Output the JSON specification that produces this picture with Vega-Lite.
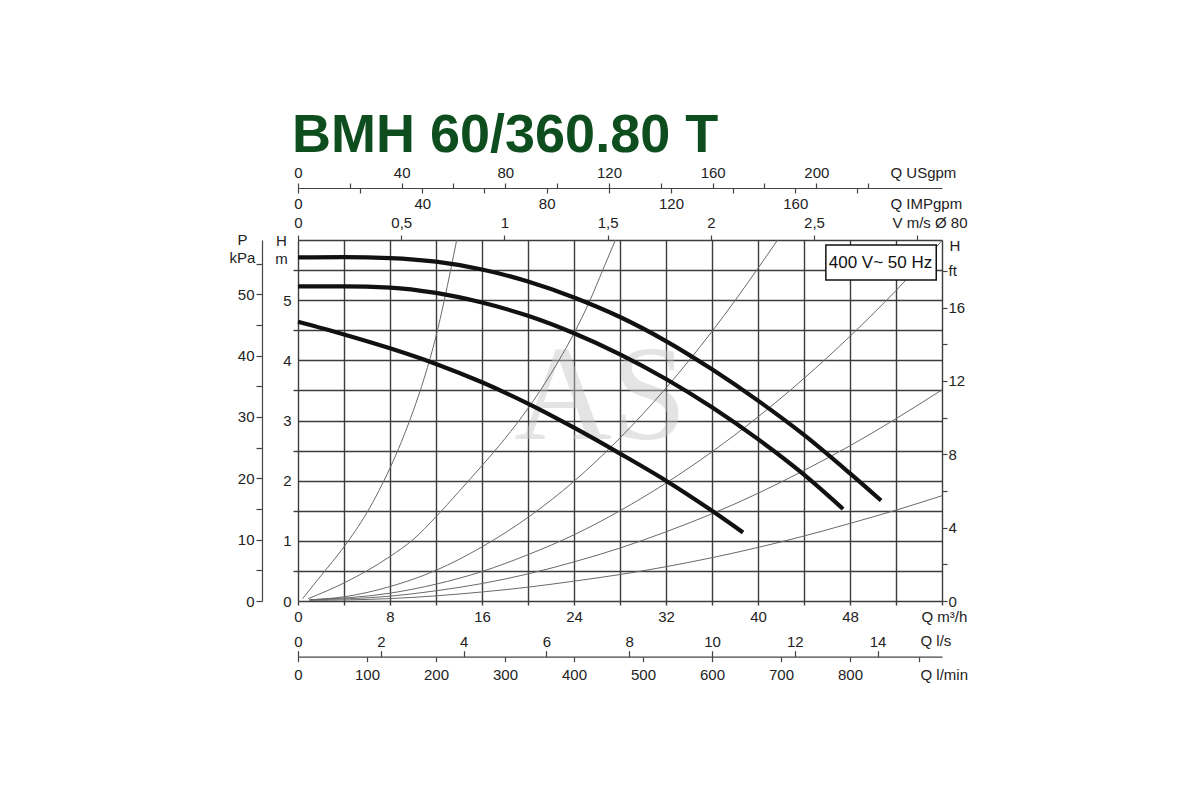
{
  "$schema": "https://vega.github.io/schema/vega-lite/v6.json",
  "width": 644,
  "height": 361,
  "autosize": {"type": "none"},
  "padding": {"left": 298, "top": 240, "right": 258, "bottom": 199},
  "background": "#ffffff",
  "title": {
    "text": "BMH 60/360.80 T",
    "anchor": "start",
    "frame": "group",
    "font": "Liberation Sans",
    "fontSize": 54,
    "fontWeight": "bold",
    "color": "#0e4d1e",
    "baseline": "alphabetic",
    "offset": -41,
    "dx": -6
  },
  "config": {
    "view": {"stroke": null},
    "axis": {
      "labelFont": "Liberation Sans",
      "labelFontSize": 15,
      "labelColor": "#222222",
      "titleFont": "Liberation Sans",
      "titleFontSize": 15,
      "titleFontWeight": "normal",
      "titleColor": "#222222",
      "domainColor": "#444444",
      "domainWidth": 1.2,
      "tickColor": "#444444",
      "tickWidth": 1.2,
      "grid": false,
      "labelFlush": false,
      "labelOverlap": false,
      "labelBound": false,
      "titlePadding": 0
    }
  },
  "datasets": {
    "pump": [
      {"curve": "1", "Q": 0, "H": 5.71}, {"curve": "1", "Q": 4, "H": 5.715}, {"curve": "1", "Q": 8, "H": 5.7},
      {"curve": "1", "Q": 12, "H": 5.64}, {"curve": "1", "Q": 16, "H": 5.51}, {"curve": "1", "Q": 20, "H": 5.31},
      {"curve": "1", "Q": 24, "H": 5.045}, {"curve": "1", "Q": 28, "H": 4.72}, {"curve": "1", "Q": 32, "H": 4.32},
      {"curve": "1", "Q": 36, "H": 3.85}, {"curve": "1", "Q": 40, "H": 3.33}, {"curve": "1", "Q": 44, "H": 2.76},
      {"curve": "1", "Q": 48, "H": 2.12}, {"curve": "1", "Q": 50.7, "H": 1.67},
      {"curve": "2", "Q": 0, "H": 5.23}, {"curve": "2", "Q": 4, "H": 5.23}, {"curve": "2", "Q": 8, "H": 5.21},
      {"curve": "2", "Q": 12, "H": 5.12}, {"curve": "2", "Q": 16, "H": 4.96}, {"curve": "2", "Q": 20, "H": 4.74},
      {"curve": "2", "Q": 24, "H": 4.45}, {"curve": "2", "Q": 28, "H": 4.1}, {"curve": "2", "Q": 32, "H": 3.69},
      {"curve": "2", "Q": 36, "H": 3.22}, {"curve": "2", "Q": 40, "H": 2.69}, {"curve": "2", "Q": 44, "H": 2.1},
      {"curve": "2", "Q": 47.4, "H": 1.53},
      {"curve": "3", "Q": 0, "H": 4.64}, {"curve": "3", "Q": 4, "H": 4.43}, {"curve": "3", "Q": 8, "H": 4.2},
      {"curve": "3", "Q": 12, "H": 3.94}, {"curve": "3", "Q": 16, "H": 3.635}, {"curve": "3", "Q": 20, "H": 3.28},
      {"curve": "3", "Q": 24, "H": 2.88}, {"curve": "3", "Q": 28, "H": 2.45}, {"curve": "3", "Q": 32, "H": 2.0},
      {"curve": "3", "Q": 36, "H": 1.5}, {"curve": "3", "Q": 38.7, "H": 1.14}
    ],
    "system": [
      {"curve": "a", "Q": 0.4, "H": 0.04}, {"curve": "a", "Q": 2, "H": 0.42}, {"curve": "a", "Q": 4, "H": 0.9},
      {"curve": "a", "Q": 5, "H": 1.17}, {"curve": "a", "Q": 6, "H": 1.47}, {"curve": "a", "Q": 7, "H": 1.82},
      {"curve": "a", "Q": 8, "H": 2.21}, {"curve": "a", "Q": 9, "H": 2.65}, {"curve": "a", "Q": 10, "H": 3.15},
      {"curve": "a", "Q": 11, "H": 3.72}, {"curve": "a", "Q": 12, "H": 4.4}, {"curve": "a", "Q": 12.7, "H": 4.98},
      {"curve": "a", "Q": 13.25, "H": 5.48}, {"curve": "a", "Q": 13.8, "H": 6.0},
      {"curve": "b", "Q": 0.9, "H": 0.04}, {"curve": "b", "Q": 4, "H": 0.3}, {"curve": "b", "Q": 8, "H": 0.74},
      {"curve": "b", "Q": 10, "H": 1.02}, {"curve": "b", "Q": 12, "H": 1.4}, {"curve": "b", "Q": 14, "H": 1.82},
      {"curve": "b", "Q": 16, "H": 2.25}, {"curve": "b", "Q": 18, "H": 2.7}, {"curve": "b", "Q": 20, "H": 3.2},
      {"curve": "b", "Q": 22, "H": 3.78}, {"curve": "b", "Q": 24, "H": 4.45}, {"curve": "b", "Q": 25.4, "H": 5.0},
      {"curve": "b", "Q": 26.5, "H": 5.5}, {"curve": "b", "Q": 27.6, "H": 6.0},
      {"curve": "c", "Q": 1, "H": 0.02}, {"curve": "c", "Q": 4, "H": 0.07}, {"curve": "c", "Q": 8, "H": 0.24},
      {"curve": "c", "Q": 12, "H": 0.51}, {"curve": "c", "Q": 16, "H": 0.9}, {"curve": "c", "Q": 20, "H": 1.39},
      {"curve": "c", "Q": 24, "H": 1.99}, {"curve": "c", "Q": 28, "H": 2.71}, {"curve": "c", "Q": 32, "H": 3.54},
      {"curve": "c", "Q": 36, "H": 4.48}, {"curve": "c", "Q": 40, "H": 5.53}, {"curve": "c", "Q": 41.7, "H": 6.0},
      {"curve": "d", "Q": 1, "H": 0.02}, {"curve": "d", "Q": 8, "H": 0.13}, {"curve": "d", "Q": 12, "H": 0.28},
      {"curve": "d", "Q": 16, "H": 0.49}, {"curve": "d", "Q": 20, "H": 0.77}, {"curve": "d", "Q": 24, "H": 1.1},
      {"curve": "d", "Q": 28, "H": 1.5}, {"curve": "d", "Q": 32, "H": 1.96}, {"curve": "d", "Q": 36, "H": 2.48},
      {"curve": "d", "Q": 40, "H": 3.06}, {"curve": "d", "Q": 44, "H": 3.7}, {"curve": "d", "Q": 48, "H": 4.4},
      {"curve": "d", "Q": 52, "H": 5.16}, {"curve": "d", "Q": 56, "H": 5.99},
      {"curve": "e", "Q": 1, "H": 0.02}, {"curve": "e", "Q": 8, "H": 0.08}, {"curve": "e", "Q": 12, "H": 0.17},
      {"curve": "e", "Q": 16, "H": 0.29}, {"curve": "e", "Q": 20, "H": 0.45}, {"curve": "e", "Q": 24, "H": 0.65},
      {"curve": "e", "Q": 28, "H": 0.88}, {"curve": "e", "Q": 32, "H": 1.15}, {"curve": "e", "Q": 36, "H": 1.45},
      {"curve": "e", "Q": 40, "H": 1.79}, {"curve": "e", "Q": 44, "H": 2.17}, {"curve": "e", "Q": 48, "H": 2.58},
      {"curve": "e", "Q": 52, "H": 3.03}, {"curve": "e", "Q": 56, "H": 3.51},
      {"curve": "f", "Q": 1, "H": 0.01}, {"curve": "f", "Q": 8, "H": 0.04}, {"curve": "f", "Q": 16, "H": 0.15},
      {"curve": "f", "Q": 20, "H": 0.23}, {"curve": "f", "Q": 24, "H": 0.33}, {"curve": "f", "Q": 28, "H": 0.44},
      {"curve": "f", "Q": 32, "H": 0.57}, {"curve": "f", "Q": 36, "H": 0.72}, {"curve": "f", "Q": 40, "H": 0.89},
      {"curve": "f", "Q": 44, "H": 1.08}, {"curve": "f", "Q": 48, "H": 1.29}, {"curve": "f", "Q": 52, "H": 1.51},
      {"curve": "f", "Q": 56, "H": 1.75}
    ]
  },
  "resolve": {
    "scale": {"x": "independent", "y": "independent"},
    "axis": {"x": "independent", "y": "independent"}
  },
  "layer": [
    {
      "data": {"values": [{"label": "AS"}]},
      "mark": {"type": "text", "font": "Liberation Serif", "fontSize": 135, "color": "#c4c4c4", "opacity": 0.45, "align": "center", "baseline": "middle"},
      "encoding": {
        "x": {"datum": 26.3, "type": "quantitative", "scale": {"domain": [0, 56], "nice": false, "zero": false}, "axis": null},
        "y": {"datum": 3.37, "type": "quantitative", "scale": {"domain": [0, 6], "nice": false, "zero": false}, "axis": null},
        "text": {"field": "label"}
      }
    },
    {
      "data": {"name": "system"},
      "mark": {"type": "line", "color": "#6a6a6a", "strokeWidth": 1, "interpolate": "monotone"},
      "encoding": {
        "x": {
          "field": "Q", "type": "quantitative",
          "scale": {"domain": [0, 56], "nice": false, "zero": false},
          "axis": {
            "orient": "bottom",
            "values": [0, 4, 8, 12, 16, 20, 24, 28, 32, 36, 40, 44, 48, 52, 56],
            "grid": true, "gridColor": "#3c3c3c", "gridWidth": 1.4,
            "domain": false, "tickSize": 4, "tickColor": "#3c3c3c", "tickWidth": 1.4,
            "labelPadding": 4.5,
            "labelExpr": "datum.value % 8 === 0 && datum.value < 56 ? format(datum.value, '~g') : ''",
            "title": "Q m³/h", "titleX": 623, "titleY": 15, "titleAlign": "left", "titleBaseline": "middle", "titleAngle": 0
          }
        },
        "y": {
          "field": "H", "type": "quantitative",
          "scale": {"domain": [0, 6], "nice": false, "zero": false},
          "axis": {
            "orient": "left",
            "values": [0, 0.5, 1, 1.5, 2, 2.5, 3, 3.5, 4, 4.5, 5, 5.5, 6],
            "grid": true, "gridColor": "#3c3c3c", "gridWidth": 1.4,
            "domain": false, "tickSize": 5, "tickColor": "#3c3c3c", "tickWidth": 1.4,
            "tickOpacity": {"condition": {"test": "datum.value % 1 === 0", "value": 0}, "value": 1},
            "labelPadding": 2,
            "labelExpr": "datum.value % 1 === 0 && datum.value < 6 ? format(datum.value, '~g') : ''",
            "title": ["H", "m"], "titleAngle": 0, "titleX": -17, "titleY": -7,
            "titleAlign": "center", "titleBaseline": "top", "titleLineHeight": 18
          }
        },
        "detail": {"field": "curve"}
      }
    },
    {
      "data": {"name": "pump"},
      "mark": {"type": "line", "color": "#111111", "strokeWidth": 4.2, "interpolate": "monotone", "strokeCap": "butt", "strokeJoin": "round"},
      "encoding": {
        "x": {"field": "Q", "type": "quantitative", "scale": {"domain": [0, 56], "nice": false, "zero": false}, "axis": null},
        "y": {"field": "H", "type": "quantitative", "scale": {"domain": [0, 6], "nice": false, "zero": false}, "axis": null},
        "detail": {"field": "curve"}
      }
    },
    {
      "data": {"values": [{"label": "400 V~ 50 Hz"}]},
      "mark": {"type": "rect", "fill": "#ffffff", "stroke": "#111111", "strokeWidth": 1.5},
      "encoding": {
        "x": {"datum": 45.9, "type": "quantitative", "scale": {"domain": [0, 56], "nice": false, "zero": false}, "axis": null},
        "x2": {"datum": 55.5},
        "y": {"datum": 5.916, "type": "quantitative", "scale": {"domain": [0, 6], "nice": false, "zero": false}, "axis": null},
        "y2": {"datum": 5.335}
      }
    },
    {
      "data": {"values": [{"label": "400 V~ 50 Hz"}]},
      "mark": {"type": "text", "font": "Liberation Sans", "fontSize": 17, "color": "#111111", "align": "center", "baseline": "middle"},
      "encoding": {
        "x": {"datum": 50.65, "type": "quantitative", "scale": {"domain": [0, 56], "nice": false, "zero": false}, "axis": null},
        "y": {"datum": 5.626, "type": "quantitative", "scale": {"domain": [0, 6], "nice": false, "zero": false}, "axis": null},
        "text": {"field": "label"}
      }
    },
    {
      "data": {"values": [{"v": 0}]},
      "mark": {"type": "point", "opacity": 0},
      "encoding": {
        "x": {
          "field": "v", "type": "quantitative",
          "scale": {"domain": [0, 248.5], "nice": false, "zero": false},
          "axis": {
            "orient": "top", "offset": 52,
            "values": [0, 20, 40, 60, 80, 100, 120, 140, 160, 180, 200, 220],
            "domain": true, "tickSize": 5, "labelPadding": 2.5,
            "labelExpr": "datum.value % 40 === 0 ? datum.label : ''",
            "title": "Q USgpm", "titleX": 592, "titleY": -16, "titleAlign": "left", "titleBaseline": "middle", "titleAngle": 0
          }
        }
      }
    },
    {
      "data": {"values": [{"v": 0}]},
      "mark": {"type": "point", "opacity": 0},
      "encoding": {
        "x": {
          "field": "v", "type": "quantitative",
          "scale": {"domain": [0, 207.2], "nice": false, "zero": false},
          "axis": {
            "orient": "bottom", "offset": -413,
            "values": [0, 20, 40, 60, 80, 100, 120, 140, 160, 180],
            "domain": false, "tickSize": 5, "labelPadding": 3.5,
            "labelExpr": "datum.value % 40 === 0 ? datum.label : ''",
            "title": "Q IMPgpm", "titleX": 592, "titleY": 15, "titleAlign": "left", "titleBaseline": "middle", "titleAngle": 0
          }
        }
      }
    },
    {
      "data": {"values": [{"v": 0}]},
      "mark": {"type": "point", "opacity": 0},
      "encoding": {
        "x": {
          "field": "v", "type": "quantitative",
          "scale": {"domain": [0, 3.12], "nice": false, "zero": false},
          "axis": {
            "orient": "top", "offset": 0,
            "values": [0, 0.5, 1, 1.5, 2, 2.5, 3],
            "domain": false, "tickSize": 5, "labelPadding": 4.5,
            "labelExpr": "datum.value < 2.9 ? replace(format(datum.value, '~g'), '.', ',') : ''",
            "title": "V m/s Ø 80", "titleX": 594, "titleY": -18, "titleAlign": "left", "titleBaseline": "middle", "titleAngle": 0
          }
        }
      }
    },
    {
      "data": {"values": [{"v": 0}]},
      "mark": {"type": "point", "opacity": 0},
      "encoding": {
        "x": {
          "field": "v", "type": "quantitative",
          "scale": {"domain": [0, 15.556], "nice": false, "zero": false},
          "axis": {
            "orient": "top", "offset": -416.7,
            "values": [0, 2, 4, 6, 8, 10, 12, 14],
            "domain": true, "tickSize": 6, "labelPadding": 1,
            "title": "Q l/s", "titleX": 622, "titleY": -16, "titleAlign": "left", "titleBaseline": "middle", "titleAngle": 0
          }
        }
      }
    },
    {
      "data": {"values": [{"v": 0}]},
      "mark": {"type": "point", "opacity": 0},
      "encoding": {
        "x": {
          "field": "v", "type": "quantitative",
          "scale": {"domain": [0, 933.33], "nice": false, "zero": false},
          "axis": {
            "orient": "bottom", "offset": 55.7,
            "values": [0, 100, 200, 300, 400, 500, 600, 700, 800, 900],
            "domain": false, "tickSize": 5, "labelPadding": 6,
            "labelExpr": "datum.value < 850 ? datum.label : ''",
            "title": "Q l/min", "titleX": 622, "titleY": 17.5, "titleAlign": "left", "titleBaseline": "middle", "titleAngle": 0
          }
        }
      }
    },
    {
      "data": {"values": [{"v": 0}]},
      "mark": {"type": "point", "opacity": 0},
      "encoding": {
        "y": {
          "field": "v", "type": "quantitative",
          "scale": {"domain": [0, 58.84], "nice": false, "zero": false},
          "axis": {
            "orient": "left", "offset": 36,
            "values": [0, 5, 10, 15, 20, 25, 30, 35, 40, 45, 50, 55],
            "domain": true, "tickSize": 6, "labelPadding": 2,
            "labelExpr": "datum.value % 10 === 0 ? datum.label : ''",
            "title": ["P", "kPa"], "titleAngle": 0, "titleX": -20, "titleY": -8,
            "titleAlign": "center", "titleBaseline": "top", "titleLineHeight": 18
          }
        }
      }
    },
    {
      "data": {"values": [{"v": 0}]},
      "mark": {"type": "point", "opacity": 0},
      "encoding": {
        "y": {
          "field": "v", "type": "quantitative",
          "scale": {"domain": [0, 19.685], "nice": false, "zero": false},
          "axis": {
            "orient": "right", "offset": 0,
            "values": [0, 2, 4, 6, 8, 10, 12, 14, 16, 18],
            "domain": false, "tickSize": 5, "labelPadding": 1,
            "labelExpr": "datum.value === 18 ? 'ft' : (datum.value % 4 === 0 ? datum.label : '')",
            "title": "H", "titleAngle": 0, "titleX": 7, "titleY": 5,
            "titleAlign": "left", "titleBaseline": "middle"
          }
        }
      }
    }
  ]
}
